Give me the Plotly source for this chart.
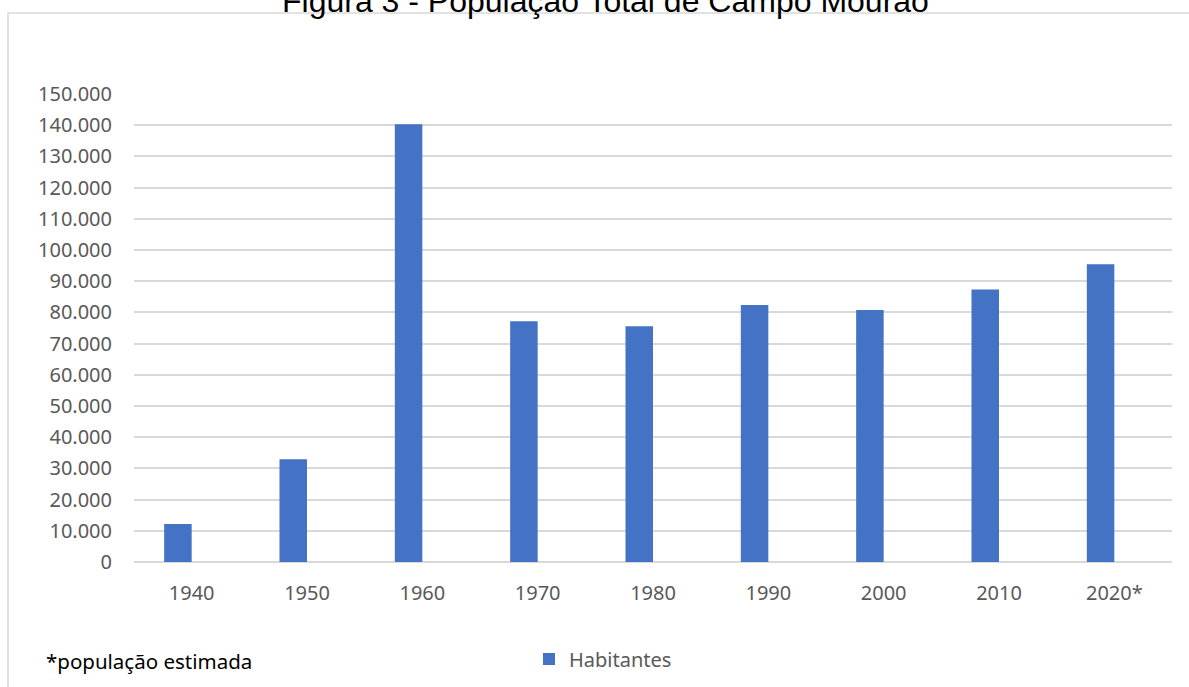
import plotly.graph_objects as go

# Census years and resident population of Campo Mourão
anos = ["1940", "1950", "1960", "1970", "1980", "1990", "2000", "2010", "2020*"]
habitantes = [12200, 32900, 140300, 77200, 75600, 82400, 80800, 87300, 95400]

serie_nome = "Habitantes"
titulo = "Figura 3 - População Total de Campo Mourão"
nota = "*população estimada"
y_ticks = list(range(0, 150001, 10000))

W, H = 1189, 687
ML, MR, MT, MB = 134, 17, 94, 125
PW = W - ML - MR
PH = H - MT - MB


def px_x(px):
    return (px - ML) / PW


def px_y(py):
    return (H - MB - py) / PH


BLUE = "#4472C4"
GRID = "#d9d9d9"
TXT = "#595959"
FONT = "Noto Sans, Open Sans, sans-serif"

fig = go.Figure()
fig.add_trace(go.Bar(
    x=anos,
    y=habitantes,
    name=serie_nome,
    marker=dict(color=BLUE, line=dict(width=0)),
    width=0.2385,
    offset=-0.2385,
    showlegend=True,
))

fig.update_layout(
    width=W,
    height=H,
    margin=dict(l=ML, r=MR, t=MT, b=MB, autoexpand=False),
    paper_bgcolor="white",
    plot_bgcolor="white",
    separators=",.",
    font=dict(family=FONT, size=20, color=TXT),
    xaxis=dict(
        type="category",
        showgrid=False,
        showline=False,
        zeroline=False,
        ticks="",
        ticklabelstandoff=17,
        tickfont=dict(family=FONT, size=20, color=TXT),
    ),
    yaxis=dict(
        range=[0, 150000],
        tickvals=y_ticks,
        tickformat=",d",
        showgrid=True,
        gridcolor=GRID,
        gridwidth=1.5,
        zeroline=True,
        zerolinecolor=GRID,
        zerolinewidth=1.5,
        showline=False,
        ticks="",
        ticklabelstandoff=21,
        tickfont=dict(family=FONT, size=20, color=TXT),
    ),
    showlegend=True,
    legend=dict(
        orientation="h",
        x=px_x(529),
        y=px_y(659),
        xanchor="left",
        yanchor="middle",
        font=dict(family=FONT, size=20, color=TXT),
        bgcolor="rgba(0,0,0,0)",
        itemwidth=30,
    ),
    shapes=[
        dict(
            type="rect",
            xref="paper",
            yref="paper",
            x0=px_x(8),
            x1=px_x(W + 20),
            y0=px_y(H + 20),
            y1=px_y(13),
            line=dict(color=GRID, width=1.5),
            fillcolor="rgba(0,0,0,0)",
            layer="below",
        )
    ],
    annotations=[
        dict(
            text=titulo,
            xref="paper",
            yref="paper",
            x=px_x(605),
            y=px_y(1),
            xanchor="center",
            yanchor="middle",
            showarrow=False,
            font=dict(family="Liberation Sans, Arial, sans-serif",
                      size=32, color="black"),
        ),
        dict(
            text=nota,
            xref="paper",
            yref="paper",
            x=px_x(44),
            y=px_y(661),
            xanchor="left",
            yanchor="middle",
            showarrow=False,
            font=dict(family=FONT, size=20.5, color="black"),
        ),
    ],
)

fig.write_html("out.html")
